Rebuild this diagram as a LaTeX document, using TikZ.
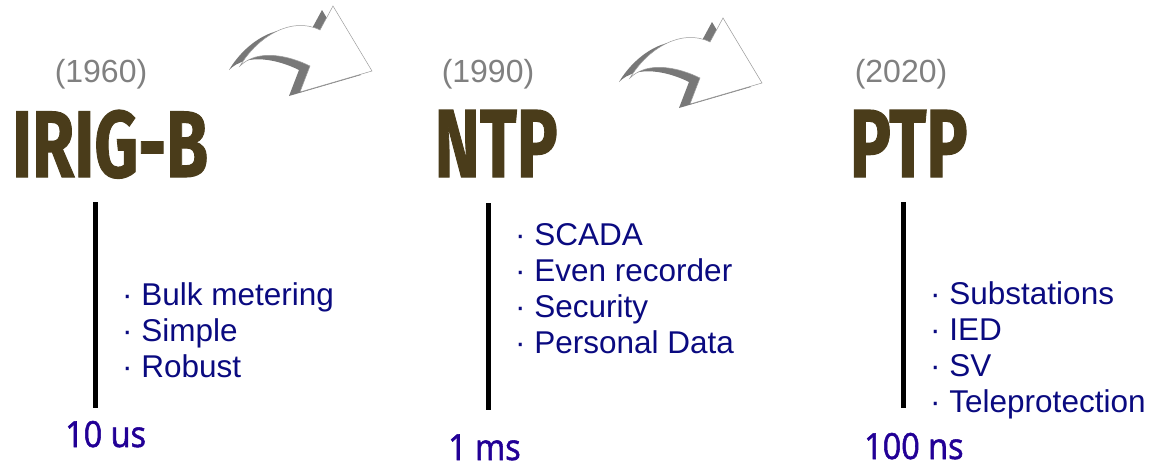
\documentclass[tikz,border=0pt]{standalone}
\usepackage{fontspec}
\setmainfont{Liberation Sans}
\newfontfamily\titlefont{Fira Sans}[BoldFeatures={FakeBold=1.2}]
\newfontfamily\timefont{Open Sans}[FakeStretch=0.9, FakeBold=1.5]
\definecolor{titlebrown}{RGB}{74,60,26}
\definecolor{yeargray}{RGB}{128,128,128}
\definecolor{featurenavy}{RGB}{10,10,128}
\definecolor{timeblue}{RGB}{34,0,150}
\definecolor{arrowgray}{RGB}{120,120,120}
\tikzset{
  year/.style={text=yeargray, font=\fontsize{32}{36}\selectfont, inner sep=0pt, anchor=base},
  title/.style={text=titlebrown, font=\titlefont\bfseries, inner sep=0pt, anchor=base west},
  feature/.style={text=featurenavy, font=\fontsize{31.5}{36}\selectfont, inner sep=0pt, anchor=base west},
  timing/.style={text=timeblue, font=\timefont\fontsize{36}{40}\selectfont, inner sep=0pt, anchor=base west},
  bar/.style={line width=5pt},
  swooparrow/.pic={
    \fill[arrowgray, shift={(-11,4)}] (240,66) .. controls (258,36) and (292,16) .. (320,30) -- (333,6) -- (372,71) -- (300,92) -- (310,66) .. controls (290,56) and (258,48) .. cycle;
    \filldraw[fill=white, draw=gray!80, line width=0.5pt] (240,66) .. controls (258,36) and (292,16) .. (320,30) -- (333,6) -- (372,71) -- (300,92) -- (310,66) .. controls (290,56) and (258,48) .. cycle;
  },
}
\begin{document}
\begin{tikzpicture}[x=1pt,y=-1pt]
  \useasboundingbox (0,0) rectangle (1151,466);
  % swoop arrows between the eras
  \pic at (0,0) {swooparrow};
  \pic at (390,12) {swooparrow};
  % IRIG-B
  \node[year] (irigyear) at (101,82) {(1960)};
  \node[title] (irig) at (12,177) {\resizebox{196pt}{67pt}{IRIG-B}};
  \draw[bar] (95,202) -- (95,408);
  \node[feature] (irig1) at (122,305) {· Bulk metering};
  \node[feature] (irig2) at (122,341) {· Simple};
  \node[feature] (irig3) at (122,377) {· Robust};
  \node[timing] (irigtime) at (65,447) {10 us};
  % NTP
  \node[year] (ntpyear) at (488,82) {(1990)};
  \node[title] (ntp) at (434.5,177) {\resizebox{123pt}{67pt}{NTP}};
  \draw[bar] (488,203) -- (488,410);
  \node[feature] (ntp1) at (515,245) {· SCADA};
  \node[feature] (ntp2) at (515,281) {· Even recorder};
  \node[feature] (ntp3) at (515,317) {· Security};
  \node[feature] (ntp4) at (515,353) {· Personal Data};
  \node[timing] (ntptime) at (448,460) {1 ms};
  % PTP
  \node[year] (ptpyear) at (901,82) {(2020)};
  \node[title] (ptp) at (849.5,177) {\resizebox{118pt}{67pt}{PTP}};
  \draw[bar] (903,202) -- (903,408);
  \node[feature] (ptp1) at (930,304) {· Substations};
  \node[feature] (ptp2) at (930,340) {· IED};
  \node[feature] (ptp3) at (930,376) {· SV};
  \node[feature] (ptp4) at (930,412) {· Teleprotection};
  \node[timing] (ptptime) at (864,459) {100 ns};
\end{tikzpicture}
\end{document}
